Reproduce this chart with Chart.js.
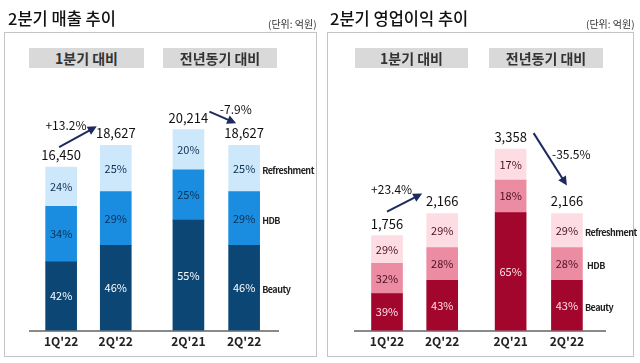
<!DOCTYPE html>
<html>
<head>
<meta charset="utf-8">
<script src="https://cdn.jsdelivr.net/npm/chart.js@4"></script>
<style>
  body { margin: 0; background: #fff; font-family: "Noto Sans CJK KR", "Noto Sans", sans-serif; }
  #page { position: relative; width: 640px; height: 363px; overflow: hidden; }
  .title { position: absolute; top: 6px; font-size: 16.5px; color: #111; font-weight: 500; }
  .unit { position: absolute; top: 16px; font-size: 10px; color: #333; }
  .panel { position: absolute; top: 32px; height: 325px; border: 1px solid #c4c4c4; box-sizing: border-box; }
  .hdr { position: absolute; top: 48px; height: 20px; background: #d9d9d9; font-size: 14px; font-weight: bold;
         color: #333; text-align: center; line-height: 20px; }
  canvas { position: absolute; top: 0; }
</style>
</head>
<body>
<div id="page">
  <div class="panel" style="left:4px;width:313px"></div>
  <div class="panel" style="left:327px;width:307px"></div>
  <canvas id="salesChart" width="320" height="363" style="left:0"></canvas>
  <canvas id="profitChart" width="320" height="363" style="left:320px"></canvas>
  <div class="title" style="left:8px">2분기 매출 추이</div>
  <div class="unit" style="left:268px">(단위: 억원)</div>
  <div class="title" style="left:330px">2분기 영업이익 추이</div>
  <div class="unit" style="left:586px">(단위: 억원)</div>
  <div class="hdr" style="left:29px;width:115px">1분기 대비</div>
  <div class="hdr" style="left:163px;width:114px">전년동기 대비</div>
  <div class="hdr" style="left:355px;width:113px">1분기 대비</div>
  <div class="hdr" style="left:489px;width:114px">전년동기 대비</div>
</div>
<script>
// 분기 라벨
const quarters = ["1Q'22", "2Q'22", "2Q'21", "2Q'22"];
const segments = ['Beauty', 'HDB', 'Refreshment'];

// 매출 (억원) 및 구성비 (%)
const salesTotal = [16450, 18627, 20214, 18627];
const salesBeauty = [42, 46, 55, 46];
const salesHDB = [34, 29, 25, 29];
const salesRefresh = [24, 25, 20, 25];
const salesChanges = ['+13.2%', '-7.9%'];

// 영업이익 (억원) 및 구성비 (%)
const profitTotal = [1756, 2166, 3358, 2166];
const profitBeauty = [39, 43, 65, 43];
const profitHDB = [32, 28, 18, 28];
const profitRefresh = [29, 29, 17, 29];
const profitChanges = ['+23.4%', '-35.5%'];

// 레이아웃: 막대 위치 (1분기 대비 / 전년동기 대비 그룹 간격)
const salesSlots = [0, 1, 2.33, 3.35];
const profitSlots = [0, 1, 2.24, 3.26];

const fontFamily = '"Noto Sans CJK KR", "Noto Sans", sans-serif';

function segmentValues(total, share) {
    return total.map((t, i) => t * share[i] / 100);
}

// 막대 라벨, 합계, 화살표, 범례 텍스트 그리기
function makeLabelPlugin(cfg) {
    return {
        id: 'labels',
        afterDatasetsDraw(chart) {
            const ctx = chart.ctx;
            const metas = [0, 1, 2].map(i => chart.getDatasetMeta(i));
            ctx.save();
            ctx.textAlign = 'center';
            ctx.textBaseline = 'middle';

            // 구성비
            metas.forEach((meta, d) => {
                meta.data.forEach((bar, i) => {
                    ctx.font = '11px ' + fontFamily;
                    ctx.fillStyle = cfg.pctColors[d];
                    ctx.fillText(cfg.shares[d][i] + '%', bar.x, (bar.y + bar.base) / 2);
                });
            });

            // 합계
            const tops = metas[2].data;
            ctx.font = '13px ' + fontFamily;
            ctx.fillStyle = '#111';
            tops.forEach((bar, i) => {
                ctx.fillText(cfg.totals[i].toLocaleString('en-US'), bar.x, bar.y - 12);
            });

            // 화살표
            cfg.arrows.forEach((a, k) => {
                const b0 = tops[a.from], b1 = tops[a.to];
                const x0 = b0.x + a.s[0], y0 = b0.y + a.s[1];
                const x1 = b1.x + a.e[0], y1 = b1.y + a.e[1];
                const ang = Math.atan2(y1 - y0, x1 - x0);
                ctx.strokeStyle = '#1d2a5e';
                ctx.fillStyle = '#1d2a5e';
                ctx.lineWidth = 2;
                ctx.beginPath();
                ctx.moveTo(x0, y0);
                ctx.lineTo(x1 - 6 * Math.cos(ang), y1 - 6 * Math.sin(ang));
                ctx.stroke();
                ctx.beginPath();
                ctx.moveTo(x1, y1);
                ctx.lineTo(x1 - 9 * Math.cos(ang) + 4.5 * Math.sin(ang), y1 - 9 * Math.sin(ang) - 4.5 * Math.cos(ang));
                ctx.lineTo(x1 - 9 * Math.cos(ang) - 4.5 * Math.sin(ang), y1 - 9 * Math.sin(ang) + 4.5 * Math.cos(ang));
                ctx.closePath();
                ctx.fill();
                ctx.font = '12px ' + fontFamily;
                ctx.fillStyle = '#111';
                ctx.fillText(cfg.changes[k], (x0 + x1) / 2 + a.t[0], (y0 + y1) / 2 + a.t[1]);
            });

            // 범례 (마지막 막대 오른쪽)
            ctx.textAlign = 'left';
            ctx.font = 'bold 9px ' + fontFamily;
            ctx.letterSpacing = '-0.5px';
            ctx.fillStyle = '#222';
            metas.forEach((meta, d) => {
                const bar = meta.data[meta.data.length - 1];
                ctx.fillText(segments[d], bar.x + 18 + cfg.legendShift[d], (bar.y + bar.base) / 2 + 2);
            });
            ctx.restore();
        }
    };
}

function buildChart(id, cfg) {
    const datasets = cfg.shares.map((share, d) => ({
        label: segments[d],
        data: segmentValues(cfg.totals, share).map((v, i) => ({ x: cfg.slots[i], y: v })),
        backgroundColor: cfg.colors[d],
        barThickness: 31,
        borderWidth: 0
    }));
    return new Chart(document.getElementById(id), {
        type: 'bar',
        data: { datasets: datasets },
        options: {
            responsive: false,
            animation: false,
            layout: { padding: { left: cfg.left, right: cfg.right, top: 82, bottom: 10 } },
            plugins: { legend: { display: false }, tooltip: { enabled: false } },
            scales: {
                x: {
                    type: 'linear',
                    offset: false,
                    min: cfg.xMin,
                    max: cfg.xMax,
                    stacked: true,
                    afterBuildTicks: axis => { axis.ticks = cfg.slots.map(v => ({ value: v })); },
                    ticks: {
                        autoSkip: false,
                        maxRotation: 0,
                        padding: 4,
                        color: '#222',
                        font: { family: fontFamily, size: 12, weight: 'bold' },
                        callback: (v, i) => quarters[i]
                    },
                    grid: { display: false, drawTicks: false },
                    border: { display: true, color: '#8a8a8a', width: 2 }
                },
                y: { stacked: true, display: false, min: 0, max: cfg.yMax }
            }
        },
        plugins: [makeLabelPlugin(cfg)]
    });
}

buildChart('salesChart', {
    totals: salesTotal,
    shares: [salesBeauty, salesHDB, salesRefresh],
    changes: salesChanges,
    slots: salesSlots,
    xMin: -0.57, xMax: 3.97,
    left: 30, right: 42, yMax: 25000,
    colors: ['#0c4674', '#1a8de0', '#cde8fb'],
    pctColors: ['#ffffff', '#0c2f52', '#0c2f52'],
    legendShift: [0, 0, 0],
    arrows: [
        { from: 0, to: 1, s: [-2, -20], e: [-19, -19], t: [-12, -11] },
        { from: 2, to: 3, s: [21, -18], e: [-8, -22], t: [13, -8] }
    ]
});

buildChart('profitChart', {
    totals: profitTotal,
    shares: [profitBeauty, profitHDB, profitRefresh],
    changes: profitChanges,
    slots: profitSlots,
    xMin: -0.58, xMax: 3.95,
    left: 35, right: 35, yMax: 4600,
    colors: ['#a3062c', '#eb8ca2', '#fddde3'],
    pctColors: ['#fde3e8', '#4a1020', '#4a1020'],
    legendShift: [0, 2, 0],
    arrows: [
        { from: 0, to: 1, s: [0, -24], e: [-20, -20], t: [-13, -13] },
        { from: 2, to: 3, s: [23, -16], e: [0, -28], t: [21, -5] }
    ]
});
</script>
</body>
</html>
